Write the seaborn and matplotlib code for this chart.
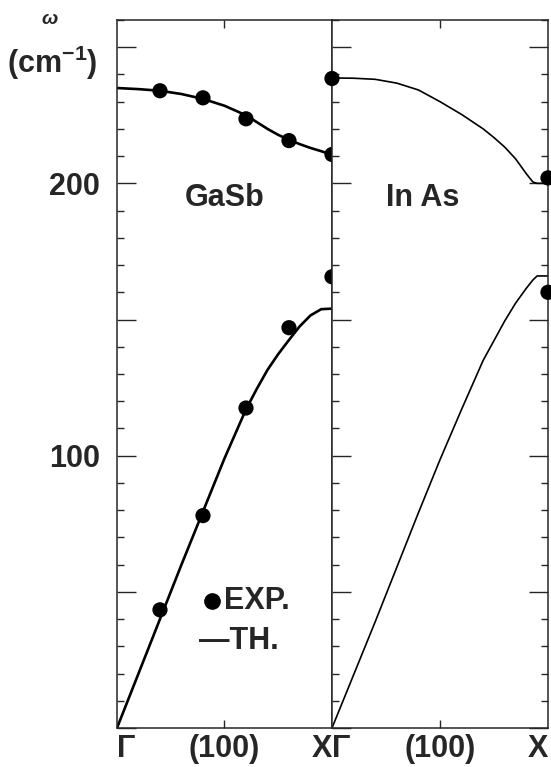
import matplotlib
matplotlib.use("Agg")
import matplotlib.pyplot as plt
import seaborn as sns
from matplotlib.ticker import MultipleLocator, FuncFormatter

# GaSb theory curves
gasb_q = [0, 0.1, 0.2, 0.3, 0.4, 0.5, 0.6, 0.65, 0.7, 0.75, 0.8, 0.85, 0.9, 0.95, 1.0]
gasb_opt = [235, 234.6, 234, 232.8, 231, 228.5, 225, 222.5, 220, 217.8, 216, 214.4, 213, 211.8, 210.5]
gasb_ac = [0, 20, 40, 60, 79.5, 99, 117, 124.5, 131.5, 137.3, 142.5, 147.5, 151.5, 153.8, 154]
# GaSb experiment
gasb_exp_q = [0.2, 0.4, 0.6, 0.8, 1.0]
gasb_exp_opt = [234, 231.4, 223.7, 215.7, 210.6]
gasb_exp_ac = [43.4, 78, 117.5, 147, 165.7]

# InAs theory curves
inas_q = [0, 0.1, 0.2, 0.3, 0.4, 0.5, 0.6, 0.7, 0.75, 0.8, 0.85, 0.9, 0.93, 0.95, 1.0]
inas_opt = [238.7, 238.6, 238.2, 236.8, 234.3, 230, 225.3, 220, 216.8, 213.3, 209, 203.5, 200.5, 200, 200]
inas_q_ac = [0, 0.1, 0.2, 0.3, 0.4, 0.5, 0.6, 0.7, 0.8, 0.85, 0.9, 0.93, 0.95, 1.0]
inas_ac = [0, 19.5, 39, 59, 79, 98.5, 117, 135, 149.5, 156, 161.5, 164.5, 166, 166]
# InAs experiment
inas_exp_q = [0.0, 1.0, 1.0]
inas_exp_w = [238.5, 202, 160]

x_labels = ["Γ", "(100)", "X"]

sns.set_style("ticks")
plt.rcParams["font.family"] = ["Liberation Sans", "DejaVu Sans"]
plt.rcParams["mathtext.fontset"] = "custom"
plt.rcParams["mathtext.bf"] = "Liberation Sans:bold"
plt.rcParams["mathtext.rm"] = "Liberation Sans:bold"

FS = 22

fig = plt.figure(figsize=(5.51, 7.67), dpi=100)
ax1 = fig.add_axes([0.2123, 0.0508, 0.3902, 0.9232])
ax2 = fig.add_axes([0.6025, 0.0508, 0.392, 0.9232], sharey=ax1)

sns.lineplot(x=gasb_q, y=gasb_opt, ax=ax1, color="black", lw=1.9, estimator=None)
sns.lineplot(x=gasb_q, y=gasb_ac, ax=ax1, color="black", lw=1.9, estimator=None)
sns.scatterplot(x=gasb_exp_q, y=gasb_exp_opt, ax=ax1, color="black", s=120,
                edgecolor="none", clip_on=False, zorder=5)
sns.scatterplot(x=gasb_exp_q, y=gasb_exp_ac, ax=ax1, color="black", s=120,
                edgecolor="none", clip_on=False, zorder=5)

sns.lineplot(x=inas_q, y=inas_opt, ax=ax2, color="black", lw=1.2, estimator=None)
sns.lineplot(x=inas_q_ac, y=inas_ac, ax=ax2, color="black", lw=1.2, estimator=None)
sns.scatterplot(x=inas_exp_q, y=inas_exp_w, ax=ax2, color="black", s=120,
                edgecolor="none", clip_on=False, zorder=5)

for ax in (ax1, ax2):
    ax.set_xlim(0, 1)
    ax.set_ylim(0, 260)
    ax.set_xlabel("")
    ax.set_ylabel("")
    for s in ax.spines.values():
        s.set_linewidth(1.1)
        s.set_visible(True)
    ax.yaxis.set_major_locator(MultipleLocator(50))
    ax.yaxis.set_minor_locator(MultipleLocator(10))
    ax.tick_params(axis="y", which="major", direction="in", length=14, width=1, pad=12)
    ax.tick_params(axis="y", which="minor", direction="in", length=5, width=1)
    ax.set_xticks([0, 0.5, 1])
    ax.set_xticklabels(x_labels, fontsize=FS, fontweight="bold")
    ax.tick_params(axis="x", which="major", direction="in", length=6, width=1,
                   top=True, pad=4)
    ticks = ax.xaxis.get_major_ticks()
    for t in (ticks[0], ticks[2]):
        t.tick1line.set_visible(False)
        t.tick2line.set_visible(False)
    lbls = ax.get_xticklabels()
    lbls[0].set_ha("left")
    lbls[2].set_ha("right")

ax1.yaxis.set_major_formatter(FuncFormatter(lambda v, p: f"{int(v)}" if v in (100, 200) else ""))
ax1.tick_params(axis="y", which="both", left=True, right=False, labelsize=FS)
for l in ax1.get_yticklabels():
    l.set_fontweight("bold")
ax2.tick_params(axis="y", which="both", left=True, right=True, labelleft=False)

ax1.text(0.5, 194.5, "GaSb", ha="center", va="center", fontsize=FS, fontweight="bold")
ax2.text(0.42, 194.5, "In As", ha="center", va="center", fontsize=FS, fontweight="bold")

ax1.plot([0.44], [46.7], "o", color="black", ms=11)
ax1.text(0.5, 46.7, "EXP.", ha="left", va="center", fontsize=FS, fontweight="bold")
ax1.text(0.38, 32.1, "—TH.", ha="left", va="center", fontsize=FS, fontweight="bold")

fig.text(0.09, 0.975, "ω", ha="center", va="center", fontsize=14,
         fontweight="bold", style="italic")
fig.text(0.012, 0.918, r"(cm$^{-1}$)", ha="left", va="center", fontsize=FS,
         fontweight="bold")

fig.savefig("out.png", dpi=100)
